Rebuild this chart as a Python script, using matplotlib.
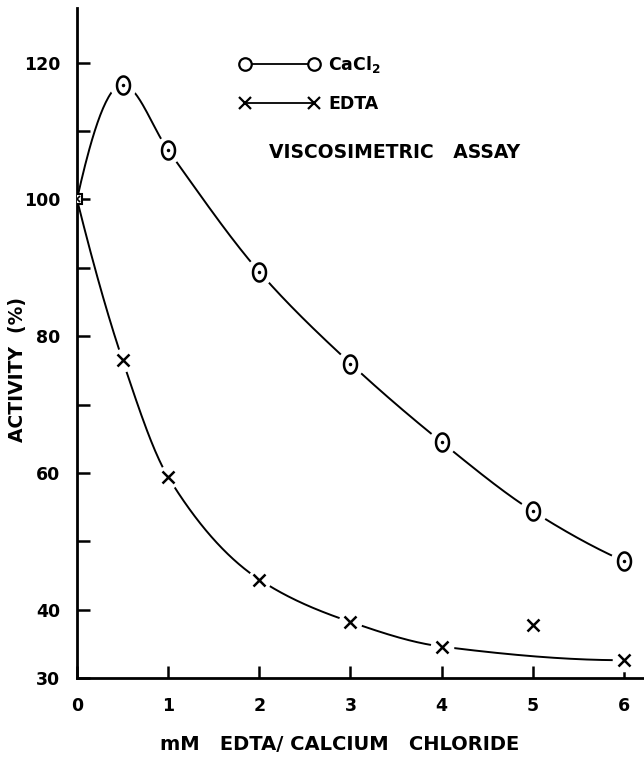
import numpy as np
import matplotlib
matplotlib.use("Agg")
import matplotlib.pyplot as plt
from matplotlib.path import Path
from matplotlib.lines import Line2D

# concentrations (mM) and activities (%)
conc = [0, 0.5, 1, 2, 3, 4, 5, 6]
cacl2 = [100, 116.8, 107.2, 89.4, 76.0, 64.5, 54.4, 47.1]
edta = [100, 76.5, 59.4, 44.4, 38.2, 34.6, 37.8, 32.6]
# the EDTA point at 5 mM is left off the fitted curve
edta_fit_idx = [0, 1, 2, 3, 4, 5, 7]

ytick_major = [30, 40, 60, 80, 100, 120]
ytick_minor = [50, 70, 90, 110]
xticks = [0, 1, 2, 3, 4, 5, 6]


def pchip(x, y, xs):
    # monotone cubic (Fritsch-Carlson) through the measured points
    x = np.asarray(x, float)
    y = np.asarray(y, float)
    h = np.diff(x)
    d = np.diff(y) / h
    m = np.zeros_like(y)
    for k in range(1, len(x) - 1):
        if d[k - 1] * d[k] > 0:
            w1 = 2 * h[k] + h[k - 1]
            w2 = h[k] + 2 * h[k - 1]
            m[k] = (w1 + w2) / (w1 / d[k - 1] + w2 / d[k])

    def end(h0, h1, d0, d1):
        s = ((2 * h0 + h1) * d0 - h0 * d1) / (h0 + h1)
        if np.sign(s) != np.sign(d0):
            return 0.0
        if np.sign(d0) != np.sign(d1) and abs(s) > 3 * abs(d0):
            return 3 * d0
        return s

    m[0] = end(h[0], h[1], d[0], d[1])
    m[-1] = end(h[-1], h[-2], d[-1], d[-2])
    xs = np.asarray(xs, float)
    i = np.clip(np.searchsorted(x, xs) - 1, 0, len(h) - 1)
    t = (xs - x[i]) / h[i]
    h00 = 2 * t**3 - 3 * t**2 + 1
    h10 = t**3 - 2 * t**2 + t
    h01 = -2 * t**3 + 3 * t**2
    h11 = t**3 - t**2
    return h00 * y[i] + h10 * h[i] * m[i] + h01 * y[i + 1] + h11 * h[i] * m[i + 1]


plt.rcParams["font.family"] = "DejaVu Sans"
plt.rcParams["font.weight"] = "bold"

fig = plt.figure(figsize=(6.44, 7.59), dpi=100)
ax = fig.add_axes([77 / 644, 81 / 759, 567 / 644, 670 / 759])

# tall ellipse marker for the CaCl2 points
th = np.linspace(0, 2 * np.pi, 60)
ell = Path(np.c_[0.72 * np.cos(th), np.sin(th)], closed=True)

xs = np.linspace(0, 6, 400)
ax.plot(xs, pchip(conc, cacl2, xs), color="black", lw=1.4, zorder=2)
ex = [conc[i] for i in edta_fit_idx]
ey = [edta[i] for i in edta_fit_idx]
ax.plot(xs, pchip(ex, ey, xs), color="black", lw=1.4, zorder=2)

# white halo so the curves break around each symbol
ax.plot(conc[1:], cacl2[1:], ls="none", marker="o", ms=20, mfc="white", mec="none", zorder=3)
ax.plot(conc[1:], edta[1:], ls="none", marker="o", ms=17, mfc="white", mec="none", zorder=3)

ax.plot(conc[1:], cacl2[1:], ls="none", marker=ell, ms=13, mfc="white", mec="black", mew=1.8, zorder=4)
ax.plot(conc[1:], cacl2[1:], ls="none", marker=".", ms=3, color="black", zorder=5)
ax.plot(conc[1:], edta[1:], ls="none", marker="x", ms=9, mec="black", mew=1.8, zorder=4)
ax.plot(conc[:1], cacl2[:1], ls="none", marker="s", ms=7, mfc="white", mec="black", mew=1.5, zorder=4)
ax.plot(conc[:1], edta[:1], ls="none", marker="x", ms=5, mec="black", mew=1.2, zorder=5)

ax.set_xlim(0, 6.22)
ax.set_ylim(30, 128)
for s in ["top", "right"]:
    ax.spines[s].set_visible(False)
for s in ["left", "bottom"]:
    ax.spines[s].set_linewidth(2)

ax.set_xticks(xticks)
ax.set_xticklabels([str(v) for v in xticks])
ax.set_yticks(ytick_major)
ax.set_yticklabels([str(v) for v in ytick_major])
ax.set_yticks(ytick_minor, minor=True)
ax.tick_params(axis="both", which="both", direction="in", length=9, width=1.8, labelsize=12.5)
ax.tick_params(axis="y", which="both", pad=12)
ax.tick_params(axis="x", which="both", pad=14)
ax.tick_params(axis="x", which="minor", bottom=False)

fig.text(18 / 644, 1 - 370 / 759, "ACTIVITY  (%)", rotation=90, ha="center", va="center",
         fontsize=13.5, fontweight="bold")
fig.text(340 / 644, 1 - 745 / 759, "mM   EDTA/ CALCIUM   CHLORIDE", ha="center", va="center",
         fontsize=14, fontweight="bold")
fig.text(395 / 644, 1 - 152 / 759, "VISCOSIMETRIC   ASSAY", ha="center", va="center",
         fontsize=13.5, fontweight="bold")

handles = [
    Line2D([], [], color="black", lw=1.3, marker="o", ms=9, mfc="white", mec="black", mew=1.6),
    Line2D([], [], color="black", lw=1.3, marker="x", ms=8, mec="black", mew=1.6),
]
fig.legend(handles, ["CaCl$_2$", "EDTA"], loc="upper left", bbox_to_anchor=(224 / 644, 1 - 38 / 759),
           frameon=False, numpoints=2, handlelength=4.6, handletextpad=0.5, labelspacing=1.2,
           prop={"size": 12.5, "weight": "bold"})

fig.savefig("out.png", dpi=100, facecolor="white")
